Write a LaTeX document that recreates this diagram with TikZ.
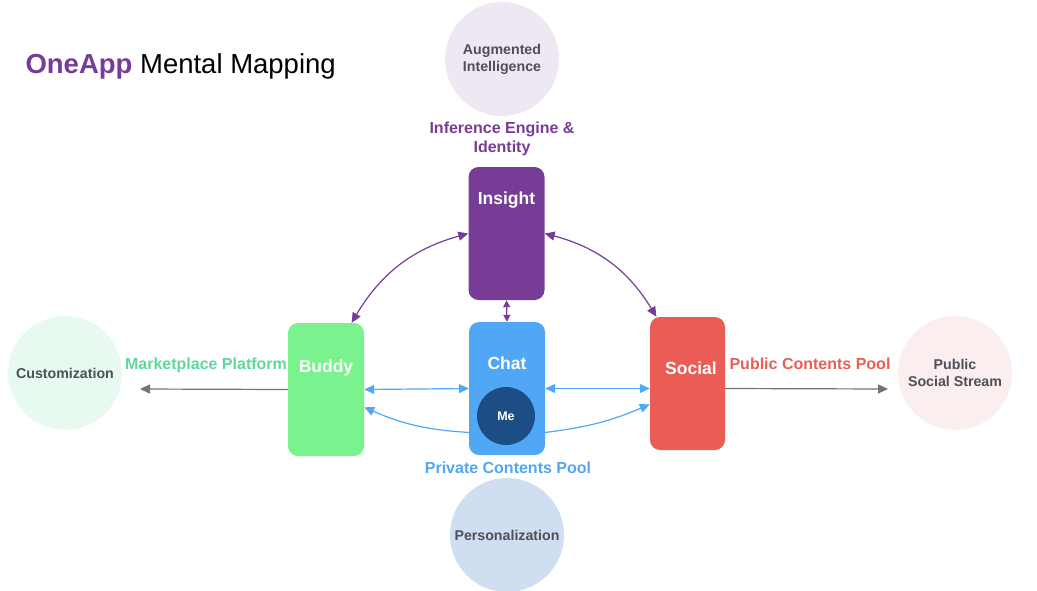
\documentclass[tikz,border=0pt]{standalone}
\usepackage{fontspec}
\setmainfont{Liberation Sans}
\usepackage{tikz}
\usetikzlibrary{arrows.meta}

\definecolor{oapurple}{HTML}{773D96}
\definecolor{oablue}{HTML}{4FA7F5}
\definecolor{oagreen}{HTML}{7AF38F}
\definecolor{oateal}{HTML}{5FD6A0}
\definecolor{oared}{HTML}{EA5D55}
\definecolor{oanavy}{HTML}{1C4E85}
\definecolor{oagrey}{HTML}{4F4F57}
\definecolor{lavender}{HTML}{EEE8F3}
\definecolor{mint}{HTML}{E8FAF0}
\definecolor{blush}{HTML}{FAEEEE}
\definecolor{skyfill}{HTML}{CFDFF1}

\begin{document}
\begin{tikzpicture}[x=1pt, y=-1pt,
	appbox/.style={rounded corners=10pt, minimum width=76pt, minimum height=133pt, inner sep=0pt},
	applabel/.style={text=white, font=\fontsize{17.5}{20}\selectfont\bfseries},
	idea/.style={circle, minimum size=114pt, inner sep=0pt, text=oagrey, align=center, font=\fontsize{14.2}{17}\selectfont\bfseries},
	pool/.style={align=center, font=\fontsize{16}{19}\selectfont\bfseries},
	link/.style={line width=1.2pt, {Triangle[length=10pt,width=9pt]}-{Triangle[length=10pt,width=9pt]}},
	tipone/.style={line width=1.2pt, -{Triangle[length=10pt,width=9pt]}},
	flow/.style={line width=1.2pt, draw=oagrey!80, -{Triangle[length=10pt,width=9pt]}}]
	
	\useasboundingbox (0,0) rectangle (1037,590);
	
	% title
	\node[anchor=west, font=\fontsize{27.5}{31}\selectfont] (title) at (22,66) {\textcolor{oapurple}{\bfseries OneApp} Mental Mapping};
	
	% outer ideas
	\node[idea, fill=lavender] (augm) at (502,59) {Augmented\\Intelligence};
	\node[idea, fill=mint] (custom) at (65,373) {Customization};
	\node[idea, fill=blush] (stream) at (955,373) {Public\\Social Stream};
	\node[idea, fill=skyfill] (person) at (507,535) {Personalization};
	
	% apps
	\node[appbox, fill=oapurple] (insight) at (506.5,233.5) {};
	\node[appbox, fill=oablue] (chat) at (507,388.5) {};
	\node[appbox, fill=oagreen] (buddy) at (326,389.5) {};
	\node[appbox, fill=oared, minimum width=75pt] (social) at (687.5,383.5) {};
	
	\node[applabel] (insightlbl) at (506.5,200) {Insight};
	\node[applabel] (chatlbl) at (507,363) {Chat};
	\node[applabel] (buddylbl) at (326,368) {Buddy};
	\node[applabel] (sociallbl) at (691,368) {Social};
	
	\node[circle, fill=oanavy, minimum size=58pt, inner sep=0pt, text=white, font=\fontsize{12.5}{14}\selectfont\bfseries] (me) at (506,416) {Me};
	
	% pool labels
	\node[pool, text=oapurple] (engine) at (502,139) {Inference Engine \&\\Identity};
	\node[pool, text=oateal] (market) at (206,365) {Marketplace Platform};
	\node[pool, text=oared] (pubpool) at (810,364) {Public Contents Pool};
	\node[pool, text=oablue] (privpool) at (508,468) {Private Contents Pool};
	
	% connectors
	\draw[link, oapurple] (insight.west) to[bend right=22] (buddy.69);
	\draw[link, oapurple] (insight.east) to[bend left=22] (social.115);
	\draw[link, oapurple, {Triangle[length=7pt,width=7pt]}-{Triangle[length=7pt,width=7pt]}] (insight.south) -- (chat.north);
	
	\draw[link, oablue] (buddy.east) -- (chat.west);
	\draw[link, oablue] (chat.east) -- (chat.east -| social.west);
	\draw[tipone, oablue] (chat.229) to[bend left=10] (buddy.335);
	\draw[tipone, oablue] (chat.311) to[bend right=8] (social.209);
	
	\coordinate (mktend) at (140,389);
	\coordinate (pubend) at (888,389);
	\draw[flow] (buddy.west) -- (mktend);
	\draw[flow] (social.west |- chat.east) ++(75,0) -- (pubend);
	
\end{tikzpicture}
\end{document}
